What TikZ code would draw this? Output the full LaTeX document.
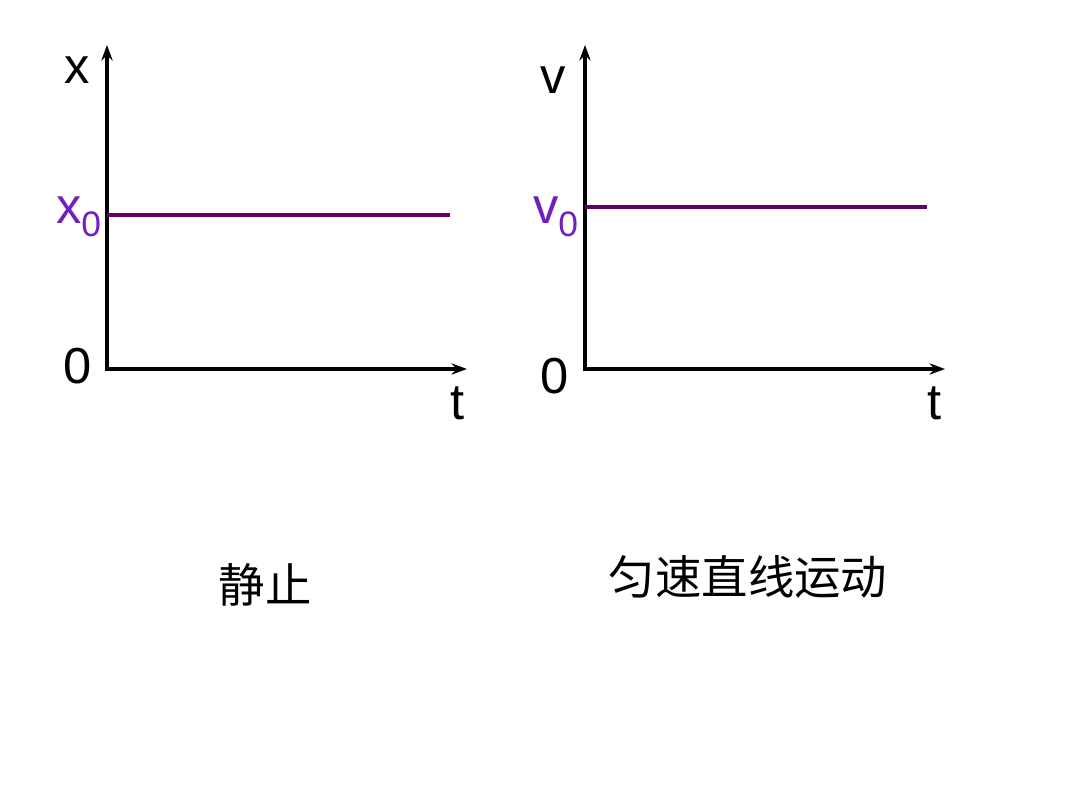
\documentclass[tikz,border=0pt]{standalone}
\usepackage{fontspec}
\setmainfont{Liberation Sans}
\newfontfamily\cjk{Noto Sans CJK SC}
\definecolor{lineC}{HTML}{660066}
\definecolor{labC}{HTML}{7020C0}
\begin{document}
\begin{tikzpicture}[x=0.025cm,y=-0.025cm,
  ax/.style={line width=2.8pt,-{Stealth[length=11pt,width=8pt]}},
  lvl/.style={line width=2.8pt,lineC},
  lab/.style={font=\fontsize{36}{36}\selectfont,inner sep=0pt},
  cn/.style={font=\cjk\fontsize{33}{33}\selectfont,inner sep=0pt}]
\usetikzlibrary{arrows.meta}
\useasboundingbox (0,0) rectangle (1080,810);
% left
\coordinate (o1) at (107,369);
\coordinate (y1) at (107,45);
\coordinate (x1) at (467,369);
\draw[ax] (107,371) -- (y1);
\draw[ax] (o1) -- (x1);
\coordinate (a1) at (107,215); \coordinate (b1) at (450,215);
\draw[lvl] (a1) -- (b1);
\node[lab] (lx) at (77,70) {x};
\node[lab,labC] (lx0) at (79,217) {x\textsubscript{0}};
\node[lab] (l01) at (78,366) {0};
\node[lab] (lt1) at (458,403) {t};
% right
\coordinate (o2) at (585,369);
\coordinate (y2) at (585,45);
\coordinate (x2) at (945,369);
\draw[ax] (585,371) -- (y2);
\draw[ax] (o2) -- (x2);
\coordinate (a2) at (585,207); \coordinate (b2) at (927,207);
\draw[lvl] (a2) -- (b2);
\node[lab] (lv) at (553,80) {v};
\node[lab,labC] (lv0) at (556,217) {v\textsubscript{0}};
\node[lab] (l02) at (555,376) {0};
\node[lab] (lt2) at (935,403) {t};
\node[cn] (c1) at (265,585) {静止};
\node[cn] (c2) at (748,577) {匀速直线运动};
\end{tikzpicture}
\end{document}
